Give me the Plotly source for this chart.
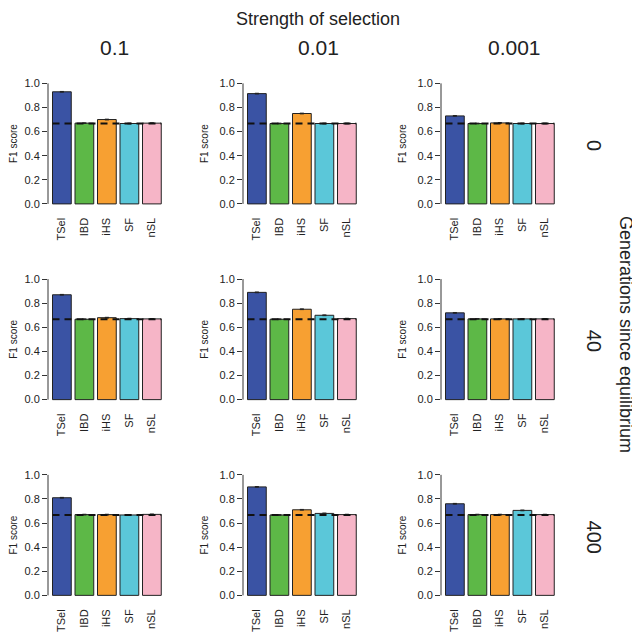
import plotly.graph_objects as go

methods = ["TSel", "IBD", "iHS", "SF", "nSL"]
colors = ["#3A53A4", "#5DB847", "#F7A032", "#5BC7D9", "#F6B5C7"]
strengths = ["0.1", "0.01", "0.001"]
generations = ["0", "40", "400"]

# F1 scores, rows = generations since equilibrium, cols = strength of selection
f1_gen0 = [[0.93, 0.67, 0.70, 0.667, 0.67],
           [0.915, 0.667, 0.75, 0.667, 0.667],
           [0.73, 0.667, 0.672, 0.667, 0.667]]
f1_gen40 = [[0.87, 0.667, 0.68, 0.672, 0.67],
            [0.89, 0.667, 0.75, 0.70, 0.672],
            [0.72, 0.67, 0.67, 0.67, 0.67]]
f1_gen400 = [[0.81, 0.67, 0.67, 0.667, 0.672],
             [0.90, 0.667, 0.71, 0.68, 0.67],
             [0.76, 0.67, 0.67, 0.705, 0.67]]
f1_err = [0.003, 0.003, 0.003, 0.003, 0.003]
baseline = 2 / 3

scores = [f1_gen0, f1_gen40, f1_gen400]

# page body has an 8px margin, so the figure is shrunk and positions offset
OFF = 8
W, H = 640 - OFF, 632 - OFF


def px(xp):
    return (xp - OFF) / W


def py(yp):
    return 1 - (yp - OFF) / H


fig = go.Figure()

shapes = []
for r in range(3):
    for c in range(3):
        k = r * 3 + c + 1
        xa = "x" if k == 1 else f"x{k}"
        ya = "y" if k == 1 else f"y{k}"
        left = 48 + [0, 195, 393][c]
        right = left + 121.5
        top = 78 + 197 * r
        bottom = 209 + 197 * r
        fig.add_trace(go.Bar(
            x=methods, y=scores[r][c], xaxis=xa, yaxis=ya,
            marker=dict(color=colors, line=dict(color="#222", width=1)),
            error_y=dict(type="data", array=f1_err, color="#222", thickness=1, width=2),
            showlegend=False, hoverinfo="x+y"))
        fig.layout[xa.replace("x", "xaxis")] = dict(
            domain=[px(left), px(right)], anchor=ya, range=[-0.617, 4.783],
            tickangle=-90, showline=False, showgrid=False, zeroline=False,
            ticks="", ticklabelstandoff=6,
            tickfont=dict(size=11, color="#222"))
        fig.layout[ya.replace("y", "yaxis")] = dict(
            domain=[py(bottom), py(top)], anchor=xa, range=[-0.04, 1.04],
            tickvals=[0, 0.2, 0.4, 0.6, 0.8, 1.0], tickformat=".1f",
            ticks="outside", ticklen=5, tickcolor="#333", tickwidth=1,
            showline=False, showgrid=False, zeroline=False,
            tickfont=dict(size=11, color="#222"),
            title=dict(text="F1 score", font=dict(size=10, color="#222"), standoff=8))
        shapes.append(dict(type="line", xref=f"{xa} domain", yref=ya,
                           x0=0, x1=0, y0=0, y1=1,
                           line=dict(color="#333", width=1)))
        shapes.append(dict(type="line", xref=xa, yref=ya,
                           x0=-0.417, x1=4.417, y0=baseline, y1=baseline,
                           line=dict(color="#111", width=2, dash="7px,5px")))

annotations = [dict(text="Strength of selection", x=px(318), y=py(18),
                    xref="paper", yref="paper", showarrow=False,
                    xanchor="center", yanchor="middle",
                    font=dict(size=18, color="#222"))]
for c, s in enumerate(strengths):
    annotations.append(dict(text=s, x=px([115, 318, 515][c]), y=py(47),
                            xref="paper", yref="paper", showarrow=False,
                            xanchor="center", yanchor="middle",
                            font=dict(size=21, color="#222")))
for r, g in enumerate(generations):
    annotations.append(dict(text=g, x=px(594), y=py(145 + 197 * r),
                            xref="paper", yref="paper", showarrow=False, textangle=90,
                            xanchor="center", yanchor="middle",
                            font=dict(size=20, color="#222")))
annotations.append(dict(text="Generations since equilibrium", x=px(626), y=py(335),
                        xref="paper", yref="paper", showarrow=False, textangle=90,
                        xanchor="center", yanchor="middle",
                        font=dict(size=18, color="#222")))

fig.update_layout(
    width=W, height=H, margin=dict(l=0, r=0, t=0, b=0),
    paper_bgcolor="white", plot_bgcolor="white",
    font=dict(family="Liberation Sans, Arial, sans-serif"),
    bargap=0.1667, shapes=shapes, annotations=annotations)

fig.write_html("out.html")
